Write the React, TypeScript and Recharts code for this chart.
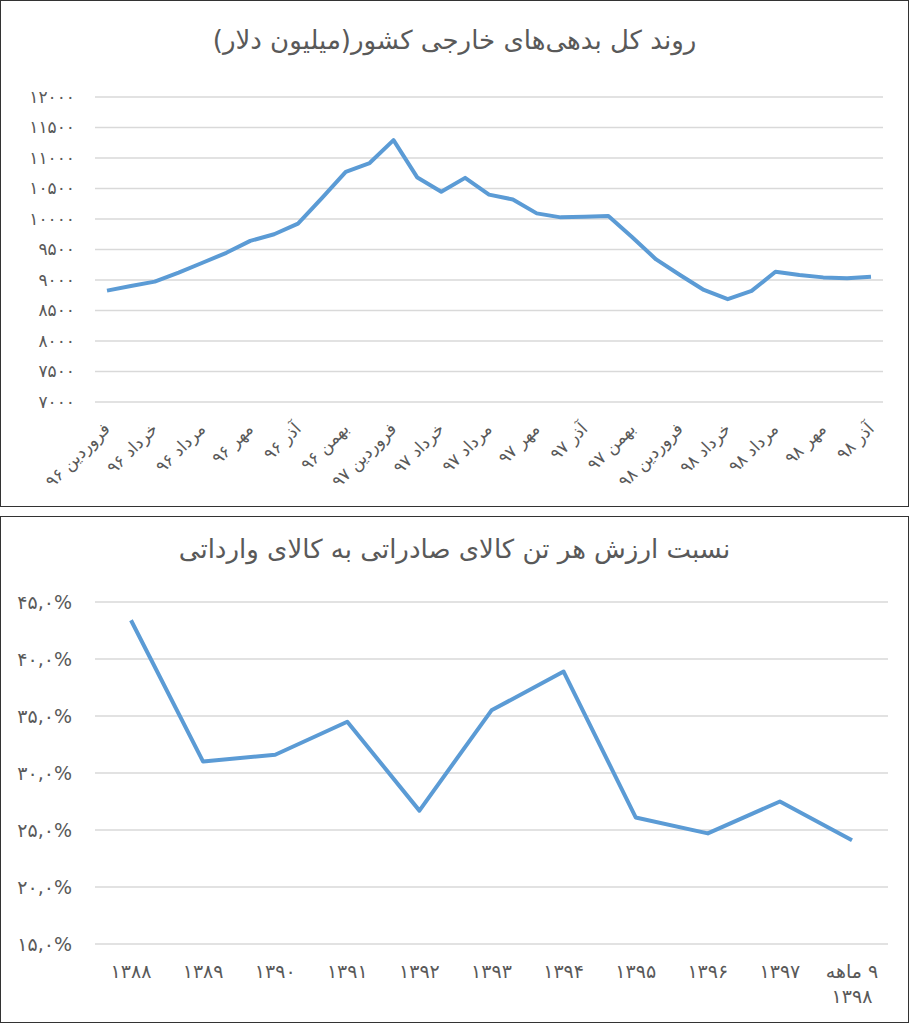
import { LineChart, Line, XAxis, YAxis, CartesianGrid } from 'recharts'

const debtPeriods = [
  'فروردین ۹۶', 'اردیبهشت ۹۶', 'خرداد ۹۶', 'تیر ۹۶', 'مرداد ۹۶', 'شهریور ۹۶',
  'مهر ۹۶', 'آبان ۹۶', 'آذر ۹۶', 'دی ۹۶', 'بهمن ۹۶', 'اسفند ۹۶',
  'فروردین ۹۷', 'اردیبهشت ۹۷', 'خرداد ۹۷', 'تیر ۹۷', 'مرداد ۹۷', 'شهریور ۹۷',
  'مهر ۹۷', 'آبان ۹۷', 'آذر ۹۷', 'دی ۹۷', 'بهمن ۹۷', 'اسفند ۹۷',
  'فروردین ۹۸', 'اردیبهشت ۹۸', 'خرداد ۹۸', 'تیر ۹۸', 'مرداد ۹۸', 'شهریور ۹۸',
  'مهر ۹۸', 'آبان ۹۸', 'آذر ۹۸',
]
const debtValues = [
  8826, 8902, 8973, 9120, 9283, 9446, 9641, 9750, 9924, 10342, 10772, 10918,
  11293, 10679, 10446, 10674, 10400, 10321, 10092, 10027, 10038, 10049, 9701, 9337,
  9082, 8837, 8685, 8821, 9136, 9082, 9043, 9027, 9054,
]
const debtTicks = [7000, 7500, 8000, 8500, 9000, 9500, 10000, 10500, 11000, 11500, 12000]

const ratioYears = ['۱۳۸۸', '۱۳۸۹', '۱۳۹۰', '۱۳۹۱', '۱۳۹۲', '۱۳۹۳', '۱۳۹۴', '۱۳۹۵', '۱۳۹۶', '۱۳۹۷', '۹ ماهه\n۱۳۹۸']
const ratioValues = [43.4, 31.0, 31.6, 34.5, 26.7, 35.5, 38.9, 26.1, 24.7, 27.5, 24.1]
const ratioTicks = [15, 20, 25, 30, 35, 40, 45]

const debtData = debtPeriods.map((p, i) => ({ p, v: debtValues[i] }))
const ratioData = ratioYears.map((p, i) => ({ p, v: ratioValues[i] }))

const FONT = '"DejaVu Sans", sans-serif'
const GREY = '#595959'
const BLUE = '#5B9BD5'

const fa = (s: string) => s.replace(/\d/g, d => '۰۱۲۳۴۵۶۷۸۹'[+d])

function SlantTick({ x, y, payload }: any) {
  const ax = x + 4
  const ay = y + 20
  return (
    <text x={ax} y={ay} transform={`rotate(-45 ${ax} ${ay})`} textAnchor='end'
      fontSize={17} fill={GREY} fontFamily={FONT}>{payload.value}</text>
  )
}

function YearTick({ x, y, payload }: any) {
  const lines = String(payload.value).split('\n')
  return (
    <text textAnchor='middle' direction='rtl' fontSize={19} fill={GREY} fontFamily={FONT}
      letterSpacing={2.5}>
      {lines.map((l, i) => <tspan key={i} x={x} y={y + 26 + i * 25}>{l}</tspan>)}
    </text>
  )
}

function ValueTick({ x, y, payload, fmt, size, spacing, shift }: any) {
  return (
    <text x={x - shift} y={y} dy={size * 0.35} textAnchor='end' fontSize={size} fill={GREY}
      fontFamily={FONT} letterSpacing={spacing}>{fmt(payload.value)}</text>
  )
}

const box = (top: number): React.CSSProperties => ({
  position: 'absolute', left: 0, top, width: 907, height: 505,
  border: '1.5px solid #333', background: '#fff',
})
const title = (top: number): React.CSSProperties => ({
  position: 'absolute', left: 0, width: 907, top, textAlign: 'center',
  fontFamily: FONT, fontSize: 26, color: GREY, direction: 'rtl',
})

export default function App() {
  return (
    <div style={{ position: 'relative', width: 910, height: 1024 }}>
      <style>{'body{margin:0}'}</style>

      <div style={box(0)}>
        <div style={title(24)}>روند کل بدهی‌های خارجی کشور(میلیون دلار)</div>
        <LineChart width={907} height={505} data={debtData}
          margin={{ top: 96, right: 25, left: 0, bottom: 0 }}>
          <CartesianGrid vertical={false} stroke='#D9D9D9' strokeWidth={1.5} />
          <XAxis dataKey='p' interval={1} axisLine={false} tickLine={false}
            height={104} padding={{ left: 12, right: 12 }} tick={<SlantTick />} />
          <YAxis width={94} domain={[7000, 12000]} ticks={debtTicks} axisLine={false}
            tickLine={false}
            tick={<ValueTick fmt={(v: number) => fa(String(v))} size={17} spacing={4} shift={12} />} />
          <Line type='linear' dataKey='v' stroke={BLUE} strokeWidth={4} dot={false}
            strokeLinejoin='round' isAnimationActive={false} />
        </LineChart>
      </div>

      <div style={box(516)}>
        <div style={title(17)}>نسبت ارزش هر تن کالای صادراتی به کالای وارداتی</div>
        <LineChart width={907} height={505} data={ratioData}
          margin={{ top: 85, right: 20, left: 0, bottom: 0 }}>
          <CartesianGrid vertical={false} stroke='#D9D9D9' strokeWidth={1.5} />
          <XAxis dataKey='p' interval={0} axisLine={false} tickLine={false}
            height={78} padding={{ left: 36, right: 36 }} tick={<YearTick />} />
          <YAxis width={94} domain={[15, 45]} ticks={ratioTicks} axisLine={false}
            tickLine={false}
            tick={<ValueTick fmt={(v: number) => fa(v + ',0') + '%'} size={19} spacing={1.5} shift={15} />} />
          <Line type='linear' dataKey='v' stroke={BLUE} strokeWidth={4} dot={false}
            strokeLinejoin='round' isAnimationActive={false} />
        </LineChart>
      </div>
    </div>
  )
}
